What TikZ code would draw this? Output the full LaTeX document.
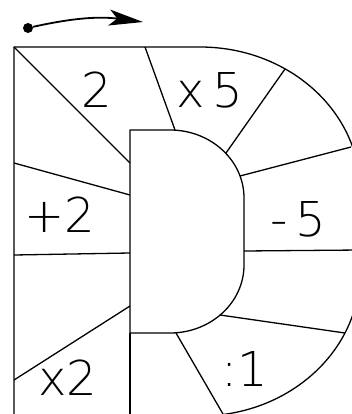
\documentclass[tikz,border=0pt]{standalone}
\usepackage{fontspec}
\newfontfamily\handfont{DejaVu Sans ExtraLight}
\usetikzlibrary{arrows.meta}

\begin{document}
\begin{tikzpicture}[x=1pt, y=-1pt,
  edge/.style={line width=1.3pt, line join=round},
  cell/.style={font=\handfont\fontsize{48}{48}\selectfont, inner sep=0pt},
  dot/.style={circle, fill, inner sep=0pt, minimum size=10pt},
  arr/.style={-{Stealth[length=34pt, width=16pt, inset=8pt]}, line width=1.8pt}]

\useasboundingbox (0,0) rectangle (352,414);
\clip (0,0) rectangle (352,414);

% turning arrow
\node[dot] (start) at (28,28) {};
\coordinate (tip) at (143,22);
\draw[arr] (start) to[bend left=10] (tip);

% outer D
\draw[edge] (14,416) -- (14,47) -- (200,47)
  arc[start angle=-90, end angle=0, x radius=160, y radius=143] -- (360,272)
  arc[start angle=0, end angle=90, x radius=160, y radius=144];

% inner D
\draw[edge] (130,130) -- (170,130)
  arc[start angle=-90, end angle=0, x radius=74, y radius=68] -- (244,265)
  arc[start angle=0, end angle=90, x radius=74, y radius=68] -- (130,333) -- cycle;
\draw[edge] (130,333) -- (130,416);

% cells
\draw[edge] (14,47) -- (130,163);
\draw[edge] (145,47) -- (175,130);
\draw[edge] (285,69) -- (226,153);
\draw[edge] (351,147) -- (240,176);
\draw[edge] (14,163) -- (130,195);
\draw[edge] (244,251) -- (360,250);
\draw[edge] (14,255) -- (130,253);
\draw[edge] (14,380) -- (130,306);
\draw[edge] (220,315) -- (345,333);
\draw[edge] (176,333) -- (223,414);

\node[cell] (two) at (97,90) {2};
\node[cell] (times5) at (210,90) {x\,5};
\node[cell] (plus2) at (60,215) {+2};
\node[cell] (minus5) at (298,219) {-\,5};
\node[cell] (times2) at (68,378) {x2};
\node[cell] (div1) at (245,369) {:1};
\end{tikzpicture}
\end{document}
